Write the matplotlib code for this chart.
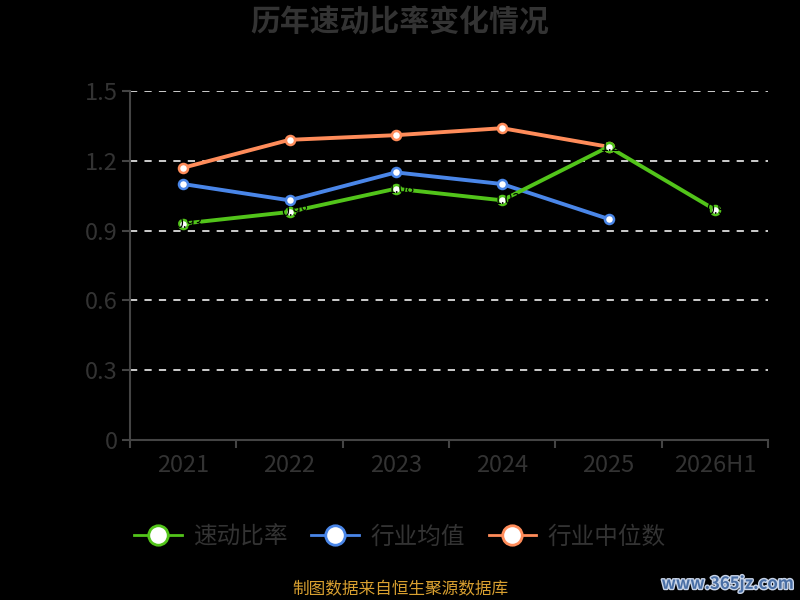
import matplotlib
matplotlib.use('Agg')
import matplotlib.pyplot as plt
from matplotlib import patheffects
from matplotlib.lines import Line2D

plt.rcParams['font.family'] = ['Noto Sans CJK SC', 'DejaVu Sans']

# 数据
anos = ['2021', '2022', '2023', '2024', '2025', '2026H1']
sudong = [0.93, 0.98, 1.08, 1.03, 1.26, 0.99]
hangye_media = [1.10, 1.03, 1.15, 1.10, 0.95]
hangye_mediana = [1.17, 1.29, 1.31, 1.34, 1.26]
y_ticks = [0, 0.3, 0.6, 0.9, 1.2, 1.5]
y_labels = ['0', '0.3', '0.6', '0.9', '1.2', '1.5']
nomes = ['速动比率', '行业均值', '行业中位数']

VERDE = '#52c41a'
AZUL = '#4a86e8'
LARANJA = '#ff8c5a'
CINZA = '#333333'

fig = plt.figure(figsize=(8, 6), dpi=100, facecolor='black')
ax = fig.add_axes([0.1625, 0.2667, 0.7975, 0.5817], facecolor='black')

x = list(range(len(anos)))
estilo = dict(linewidth=2.8, marker='o', markersize=6.5,
              markerfacecolor='white', markeredgewidth=1.8)
ax.plot(x[:len(hangye_mediana)], hangye_mediana, color=LARANJA,
        markeredgecolor=LARANJA, zorder=3, **estilo)
ax.plot(x[:len(hangye_media)], hangye_media, color=AZUL,
        markeredgecolor=AZUL, zorder=4, **estilo)
ax.plot(x, sudong, color=VERDE, markeredgecolor=VERDE, zorder=5, **estilo)

# rótulos pretos (quase invisíveis, como no original)
for xi, v in zip(x, sudong):
    ax.text(xi + 0.05, v, f'{v:.2f}', color='black', fontsize=10,
            ha='center', va='center', zorder=6)

ax.set_xlim(-0.5, len(anos) - 0.5)
ax.set_ylim(0, 1.5)
ax.set_yticks(y_ticks)
ax.set_yticklabels(y_labels, fontweight='light')
ax.set_xticks([i - 0.5 for i in range(len(anos) + 1)])
ax.set_xticklabels([])
ax.set_xticks(x, minor=True)
ax.set_xticklabels(anos, minor=True, fontweight='light')
ax.tick_params(axis='x', which='major', length=6, width=1.5, color='#444444')
ax.tick_params(axis='x', which='minor', length=0, pad=10,
               labelsize=17, labelcolor=CINZA)
ax.tick_params(axis='y', length=6, width=1.5, color='#444444',
               labelsize=17, labelcolor=CINZA, pad=3)

for y in y_ticks[1:]:
    ax.axhline(y, color='#dddddd', linestyle=(0, (4, 4)), linewidth=1.3, zorder=1)

for lado in ['top', 'right']:
    ax.spines[lado].set_visible(False)
for lado in ['left', 'bottom']:
    ax.spines[lado].set_color('#444444')
    ax.spines[lado].set_linewidth(1.5)

fig.text(0.5, 0.962, '历年速动比率变化情况', ha='center', va='center',
         fontsize=21.5, fontweight='bold', color=CINZA)

cores = [VERDE, AZUL, LARANJA]
handles = [Line2D([], [], color=c, linewidth=2, marker='o', markersize=14,
                  markerfacecolor='white', markeredgecolor=c, markeredgewidth=2)
           for c in cores]
leg = fig.legend(handles, nomes,
                 loc='center', bbox_to_anchor=(0.5, 0.105), ncol=3,
                 frameon=False, prop={'size': 17, 'weight': 'light'},
                 labelcolor=CINZA, handlelength=2.0, columnspacing=1.0,
                 handletextpad=0.5)

fig.text(0.5, 0.017, '制图数据来自恒生聚源数据库', ha='center', va='center',
         fontsize=12, color='#d9a030')
fig.text(0.992, 0.027, 'www.365jz.com', ha='right', va='center',
         fontsize=12, fontweight='bold', color='#4a6fa5',
         path_effects=[patheffects.withStroke(linewidth=2, foreground='#c8d4e8')])

plt.savefig('out.png', dpi=100, facecolor='black')
plt.close()
